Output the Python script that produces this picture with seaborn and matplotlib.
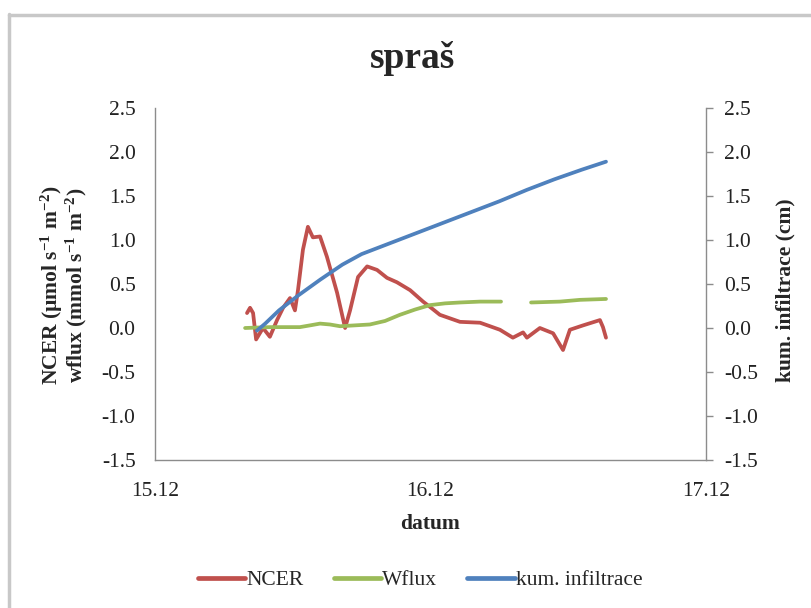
import numpy as np
import pandas as pd
import matplotlib
matplotlib.use("Agg")
import matplotlib.pyplot as plt
from matplotlib.lines import Line2D
import seaborn as sns

# ---- data (x in days after 15.12) ----
ncer_day = [0.334, 0.345, 0.356, 0.367, 0.392, 0.417, 0.443, 0.465, 0.490, 0.508, 0.519,
            0.537, 0.555, 0.573, 0.599, 0.624, 0.661, 0.690, 0.708, 0.737, 0.770, 0.806,
            0.842, 0.878, 0.926, 0.973, 0.998, 1.034, 1.107, 1.180, 1.252, 1.299, 1.336,
            1.350, 1.397, 1.445, 1.481, 1.506, 1.554, 1.615, 1.626, 1.637]
ncer_val = [0.17, 0.23, 0.17, -0.13, 0.0, -0.10, 0.09, 0.23, 0.34, 0.20, 0.43,
            0.89, 1.15, 1.03, 1.04, 0.81, 0.40, 0.0, 0.20, 0.58, 0.70, 0.66,
            0.57, 0.52, 0.43, 0.30, 0.24, 0.15, 0.07, 0.06, -0.02, -0.11, -0.05,
            -0.11, 0.0, -0.06, -0.25, -0.02, 0.03, 0.09, 0.01, -0.11]

wflux_day_a = [0.327, 0.417, 0.526, 0.563, 0.599, 0.635, 0.672, 0.726, 0.780, 0.835,
               0.889, 0.944, 0.998, 1.053, 1.107, 1.180, 1.256]
wflux_val_a = [0.0, 0.01, 0.01, 0.03, 0.05, 0.04, 0.02, 0.03, 0.04, 0.08,
               0.15, 0.21, 0.26, 0.28, 0.29, 0.30, 0.30]
wflux_day_b = [1.365, 1.470, 1.543, 1.637]
wflux_val_b = [0.29, 0.30, 0.32, 0.33]

infil_day = [0.37, 0.40, 0.45, 0.52, 0.60, 0.68, 0.75, 0.85, 0.95, 1.05, 1.15, 1.25,
             1.35, 1.45, 1.55, 1.637]
infil_val = [-0.03, 0.05, 0.20, 0.37, 0.55, 0.72, 0.84, 0.96, 1.08, 1.20, 1.32, 1.44,
             1.57, 1.69, 1.80, 1.89]

x_ticks = [0, 1, 2]
x_labels = ["15.12", "16.12", "17.12"]
y_ticks = [-1.5, -1.0, -0.5, 0.0, 0.5, 1.0, 1.5, 2.0, 2.5]

C_RED = "#C0504D"
C_GREEN = "#9BBB59"
C_BLUE = "#4F81BD"

FS = 15.5

sns.set_style("white")
plt.rcParams["font.family"] = ["Liberation Serif", "DejaVu Serif"]
plt.rcParams["mathtext.fontset"] = "custom"
plt.rcParams["mathtext.rm"] = "Liberation Serif:bold"
plt.rcParams["mathtext.bf"] = "Liberation Serif:bold"
plt.rcParams["mathtext.it"] = "Liberation Serif:bold"
plt.rcParams["mathtext.default"] = "bf"

fig = plt.figure(figsize=(8.12, 6.08), dpi=100)
W, H = 812, 608
ax = fig.add_axes([155 / W, 1 - 460 / H, (706 - 155) / W, (460 - 108) / H])
ax2 = ax.twinx()

lw = 2.7
sns.lineplot(x=ncer_day, y=ncer_val, ax=ax, color=C_RED, lw=lw, estimator=None, sort=False)
sns.lineplot(x=wflux_day_a, y=wflux_val_a, ax=ax, color=C_GREEN, lw=lw, estimator=None, sort=False)
sns.lineplot(x=wflux_day_b, y=wflux_val_b, ax=ax, color=C_GREEN, lw=lw, estimator=None, sort=False)
sns.lineplot(x=infil_day, y=infil_val, ax=ax2, color=C_BLUE, lw=lw, estimator=None, sort=False)

for a in (ax, ax2):
    a.set_xlim(0, 2)
    a.set_ylim(-1.5, 2.5)
    a.set_yticks(y_ticks)
    a.set_yticklabels([f"{v:.1f}" for v in y_ticks])
    a.set_facecolor("none")
    for s in a.spines.values():
        s.set_visible(False)

ax.set_xticks(x_ticks)
ax.set_xticklabels(x_labels)
ax.spines["left"].set_visible(True)
ax.spines["bottom"].set_visible(True)
ax2.spines["right"].set_visible(True)
for s in (ax.spines["left"], ax.spines["bottom"], ax2.spines["right"]):
    s.set_color("#8C8C8C")
    s.set_linewidth(1.0)

ax.tick_params(axis="y", length=0, pad=14, labelsize=FS, colors="#222222")
ax.tick_params(axis="x", length=0, pad=16, labelsize=FS, colors="#222222")
ax2.tick_params(axis="y", length=5, width=1, color="#8C8C8C", direction="out",
                pad=8, labelsize=FS, labelcolor="#222222")

ax.set_xlabel("datum", fontsize=FS, fontweight="bold", labelpad=9)
ax.set_ylabel("")
ax2.set_ylabel("")

fig.text(52 / W, 1 - 285 / H, "NCER (µmol s$^{-1}$ m$^{-2}$)", rotation=90,
         ha="center", va="center", fontsize=FS, fontweight="bold")
fig.text(76 / W, 1 - 285 / H, "wflux (mmol s$^{-1}$ m$^{-2}$)", rotation=90,
         ha="center", va="center", fontsize=FS, fontweight="bold")
fig.text(785 / W, 1 - 290 / H, "kum. infiltrace (cm)", rotation=90,
         ha="center", va="center", fontsize=FS, fontweight="bold")

fig.text(413 / W, 1 - 58 / H, "spraš", ha="center", va="center",
         fontsize=27, fontweight="bold")

handles = [Line2D([], [], color=C_RED, lw=3.4),
           Line2D([], [], color=C_GREEN, lw=3.4),
           Line2D([], [], color=C_BLUE, lw=3.4)]
fig.legend(handles, ["NCER", "Wflux", "kum. infiltrace"], loc="center",
           bbox_to_anchor=(420 / W, 1 - 580 / H), ncol=3, frameon=False,
           fontsize=FS, handlelength=2.2, handletextpad=0.05, columnspacing=1.4)

# outer chart frame
fig.add_artist(Line2D([9 / W, 9 / W], [0, 1 - 14 / H], color="#C8C8C8", lw=2.5,
                      transform=fig.transFigure))
fig.add_artist(Line2D([9 / W, 1], [1 - 15 / H, 1 - 15 / H], color="#C8C8C8", lw=2.5,
                      transform=fig.transFigure))

fig.savefig("out.png", dpi=100)
